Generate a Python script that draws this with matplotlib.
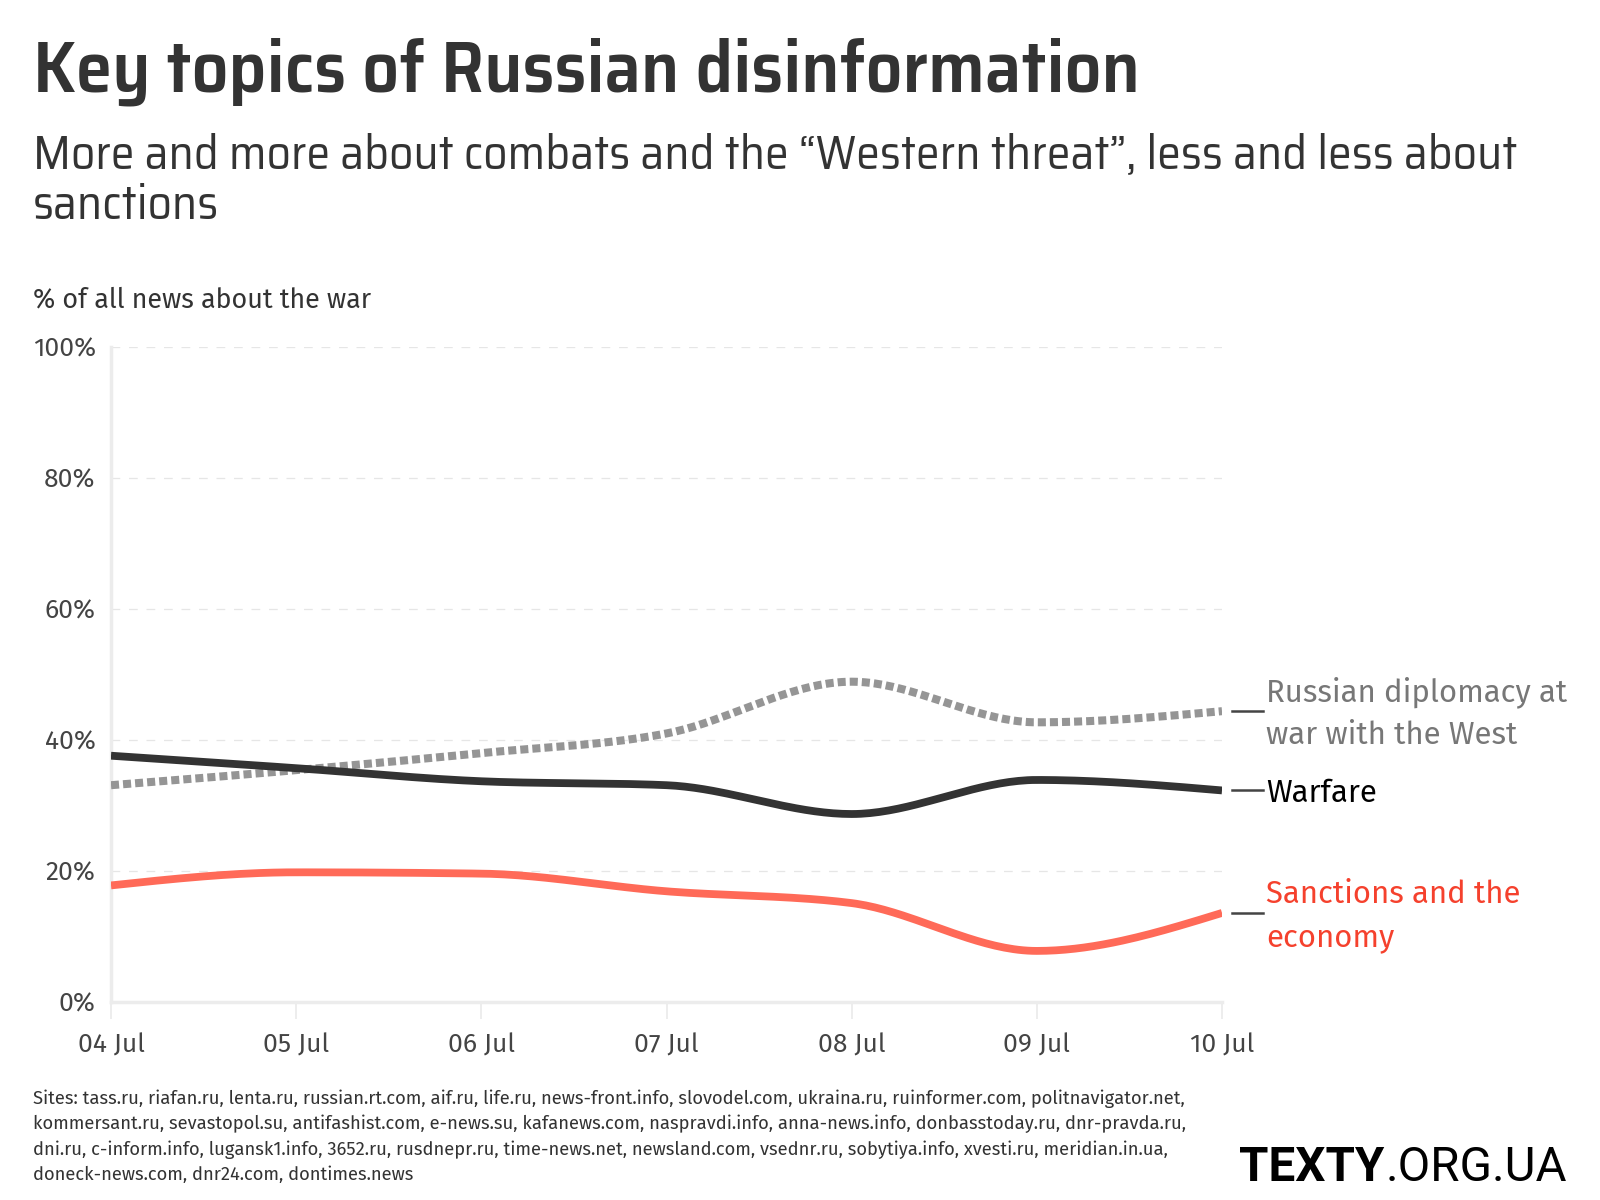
import numpy as np
import matplotlib
matplotlib.use('Agg')
import matplotlib.pyplot as plt
from matplotlib.transforms import blended_transform_factory

# data (% of all news about the war)
days = ['04 Jul', '05 Jul', '06 Jul', '07 Jul', '08 Jul', '09 Jul', '10 Jul']
diplomacy = [33.1, 35.4, 38.0, 41.0, 48.9, 42.7, 44.4]
warfare = [37.6, 35.7, 33.7, 33.1, 28.7, 33.9, 32.3]
sanctions = [17.8, 19.8, 19.6, 16.9, 15.1, 7.8, 13.6]

labels = [['Russian diplomacy at', 'war with the West'], ['Warfare'], ['Sanctions and the', 'economy']]
line_colors = ['#959595', '#333333', '#ff6a58']
label_colors = ['#777777', '#000000', '#f5412d']

sources = ["Sites: tass.ru, riafan.ru, lenta.ru, russian.rt.com, aif.ru, life.ru, news-front.info, slovodel.com, ukraina.ru, ruinformer.com, politnavigator.net,",
           "kommersant.ru, sevastopol.su, antifashist.com, e-news.su, kafanews.com, naspravdi.info, anna-news.info, donbasstoday.ru, dnr-pravda.ru,",
           "dni.ru, c-inform.info, lugansk1.info, 3652.ru, rusdnepr.ru, time-news.net, newsland.com, vsednr.ru, sobytiya.info, xvesti.ru, meridian.in.ua,",
           "doneck-news.com, dnr24.com, dontimes.news"]

BODY = 'Fira Sans'
HEAD = 'Saira SemiCondensed'
W, H = 1600, 1200


def monotone_x(y, n=40):
    # d3.curveMonotoneX style smoothing between the points
    y = np.asarray(y, float)
    x = np.arange(len(y), dtype=float)
    s = np.diff(y)
    t = np.zeros(len(y))
    for i in range(1, len(y) - 1):
        s0, s1 = s[i - 1], s[i]
        p = (s0 + s1) / 2
        t[i] = (np.sign(s0) + np.sign(s1)) * min(abs(s0), abs(s1), 0.5 * abs(p))
    t[0] = (3 * s[0] - t[1]) / 2
    t[-1] = (3 * s[-1] - t[-2]) / 2
    xs, ys = [], []
    for i in range(len(y) - 1):
        u = np.linspace(0, 1, n, endpoint=(i == len(y) - 2))
        h00 = 2*u**3 - 3*u**2 + 1
        h10 = u**3 - 2*u**2 + u
        h01 = -2*u**3 + 3*u**2
        h11 = u**3 - u**2
        xs.append(x[i] + u)
        ys.append(h00*y[i] + h10*t[i] + h01*y[i+1] + h11*t[i+1])
    return np.concatenate(xs), np.concatenate(ys)


fig = plt.figure(figsize=(16, 12), dpi=100)
renderer = fig.canvas.get_renderer()


def ptext(x, y, s, **kw):
    # text placed in pixel coords measured from the top-left corner
    return fig.text(x / W, 1 - y / H, s, **kw)


def fit(t, width):
    bb = t.get_window_extent(renderer)
    t.set_fontsize(t.get_fontsize() * width / bb.width)
    return t.get_fontsize()


ax = fig.add_axes([111/W, 1 - 1002/H, 1111/W, 655/H])

for yv in [20, 40, 60, 80, 100]:
    ax.axhline(yv, color='#e6e6e6', lw=0.9, dashes=(7, 7), zorder=0)

xs, ys = monotone_x(sanctions)
ax.plot(xs, ys, color=line_colors[2], lw=5.6, solid_capstyle='butt', zorder=3)
xs, ys = monotone_x(diplomacy)
ax.plot(xs, ys, color=line_colors[0], lw=5.8, dashes=(1, 0.5), dash_capstyle='butt', zorder=3)
xs, ys = monotone_x(warfare)
ax.plot(xs, ys, color=line_colors[1], lw=5.6, solid_capstyle='butt', zorder=4)

# tick label size: "04 Jul" is about 67 px wide in the reference
probe = fig.text(0, 0, days[0], fontsize=20, family=BODY)
tick_fs = fit(probe, 67)
probe.remove()

ax.set_xlim(0, len(days) - 1)
ax.set_ylim(0, 100)
ax.set_xticks(range(len(days)))
ax.set_xticklabels(days)
ax.set_yticks([0, 20, 40, 60, 80, 100])
ax.set_yticklabels(['0%', '20%', '40%', '60%', '80%', '100%'])
ax.tick_params(axis='x', length=12, width=1.3, color='#ececec', pad=10,
               labelsize=tick_fs, labelcolor='#444444')
ax.tick_params(axis='y', length=0, pad=11, labelsize=tick_fs, labelcolor='#444444')
for lab in ax.get_xticklabels() + ax.get_yticklabels():
    lab.set_family(BODY)
for side in ['top', 'right']:
    ax.spines[side].set_visible(False)
for side in ['left', 'bottom']:
    ax.spines[side].set_color('#ececec')
    ax.spines[side].set_linewidth(2.5)
ax.set_facecolor('none')

# end labels with short leader lines
tr = blended_transform_factory(ax.transAxes, ax.transData)
ends = [diplomacy[-1], warfare[-1], sanctions[-1]]
probe = fig.text(0, 0, labels[0][0], fontsize=24, family=BODY)
lab_fs = fit(probe, 301)
probe.remove()
for lines, v, c in zip(labels, ends, label_colors):
    ax.plot([1.009, 1.037], [v, v], transform=tr, color='#444444', lw=1.8, clip_on=False)
    yline = H - ax.transData.transform((0, v))[1]
    offs = [12] if len(lines) == 1 else [-10, 33]
    for s, o in zip(lines, offs):
        ptext(1266, yline + o, s, color=c, fontsize=lab_fs, family=BODY, va='baseline')

t = ptext(33, 91, 'Key topics of Russian disinformation', fontsize=52,
          family=HEAD, weight=600, color='#333333', va='baseline')
fit(t, 1107)
t = ptext(33, 168, 'More and more about combats and the \u201cWestern threat\u201d, less and less about',
          fontsize=35, family=HEAD, color='#333333', va='baseline')
sub_fs = fit(t, 1486)
ptext(33, 219, 'sanctions', fontsize=sub_fs, family=HEAD, color='#333333', va='baseline')

t = ptext(33, 307, '% of all news about the war', fontsize=20, family=BODY,
          color='#333333', va='baseline')
fit(t, 339)

foot = [ptext(33, 1104 + 25.4 * i, s, fontsize=13, family=BODY, color='#333333', va='baseline')
        for i, s in enumerate(sources)]
foot_fs = fit(foot[0], 1151)
for f in foot[1:]:
    f.set_fontsize(foot_fs)

t1 = ptext(1239, 1181, 'TEXTY', fontsize=36, family='Roboto', weight='bold',
           color='#000000', va='baseline')
logo_fs = fit(t1, 145)
bb = t1.get_window_extent(renderer)
ptext(bb.x1 + 1, 1181, '.ORG.UA', fontsize=logo_fs, family='Roboto', weight='normal',
      color='#000000', va='baseline')

fig.savefig('out.png', dpi=100, facecolor='white')
